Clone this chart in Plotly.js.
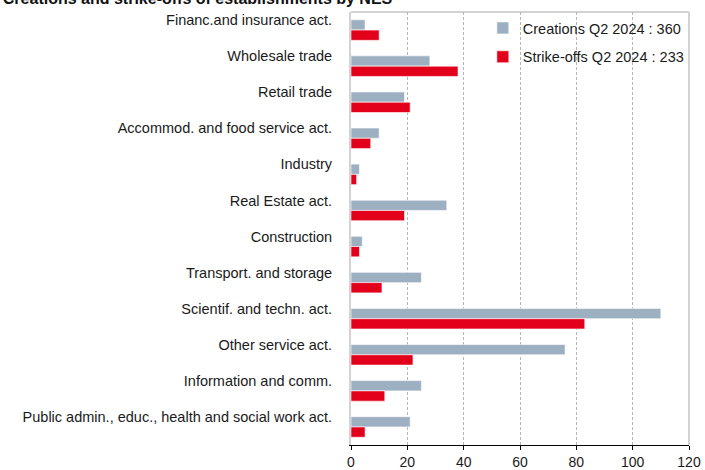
<!DOCTYPE html>
<html>
<head>
<meta charset="utf-8">
<script src="https://cdn.plot.ly/plotly-3.0.1.min.js"></script>
<style>html,body{margin:0;padding:0;background:#fff;}#chart{width:705px;height:470px;}</style>
</head>
<body>
<div id="chart"></div>
<script>
const categories = [
  "Financ.and insurance act.",
  "Wholesale trade",
  "Retail trade",
  "Accommod. and food service act.",
  "Industry",
  "Real Estate act.",
  "Construction",
  "Transport. and storage",
  "Scientif. and techn. act.",
  "Other service act.",
  "Information and comm.",
  "Public admin., educ., health and social work act."
];
const creations = [5, 28, 19, 10, 3, 34, 4, 25, 110, 76, 25, 21];
const strikeOffs = [10, 38, 21, 7, 2, 19, 3, 11, 83, 22, 12, 5];
const seriesNames = ["Creations Q2 2024 : 360", "Strike-offs Q2 2024 : 233"];
const xTicks = [0, 20, 40, 60, 80, 100, 120];

const FONT = "Liberation Sans, Arial, Helvetica, sans-serif";
const GREY = "#9cb0c2";
const RED = "#e2001a";

const traces = [
  {
    type: "bar", orientation: "h", name: seriesNames[0],
    y: categories, x: creations,
    marker: {color: GREY, line: {color: "rgba(255,255,255,0.6)", width: 1}},
    legendgroup: "a", hoverinfo: "x+y"
  },
  {
    type: "bar", orientation: "h", name: seriesNames[1],
    y: categories, x: strikeOffs,
    marker: {color: RED, line: {color: "rgba(255,255,255,0.6)", width: 1}},
    legendgroup: "b", hoverinfo: "x+y"
  }
];

const layout = {
  width: 705, height: 470,
  margin: {l: 351, r: 16, t: 12, b: 25, pad: 0},
  paper_bgcolor: "#fff", plot_bgcolor: "#fff",
  font: {family: FONT, size: 14.5, color: "#1a1a1a"},
  title: {
    text: "<b>Creations and strike-offs of establishments by NES</b>",
    font: {family: FONT, size: 16, color: "#111"},
    xref: "container", x: 0.004, xanchor: "left",
    yref: "paper", y: 1, yanchor: "bottom",
    pad: {b: 8}
  },
  barmode: "group", bargap: 0.43, bargroupgap: 0,
  showlegend: true,
  legend: {
    x: 0.39, y: 1.0, xanchor: "left", yanchor: "top",
    bgcolor: "rgba(255,255,255,0)", borderwidth: 0,
    font: {family: FONT, size: 14.5, color: "#1a1a1a"},
    traceorder: "grouped", tracegroupgap: 7
  },
  xaxis: {
    range: [0, 120], tickvals: xTicks, ticktext: xTicks.map(String),
    showgrid: true, gridcolor: "#b5b5b5", gridwidth: 1, griddash: "3px,2px",
    zeroline: false,
    showline: true, linecolor: "#000", linewidth: 1,
    ticks: "outside", ticklen: 4, tickcolor: "#000",
    tickfont: {family: FONT, size: 14, color: "#1a1a1a"},
    fixedrange: true
  },
  yaxis: {
    type: "category", autorange: "reversed",
    showgrid: false, zeroline: false,
    showline: true, linecolor: "#d3d3d3", linewidth: 2, mirror: false,
    ticks: "", ticklabelstandoff: 14, ticklabelshift: 10,
    tickfont: {family: FONT, size: 14.5, color: "#1a1a1a"},
    fixedrange: true
  },
  shapes: [
    {type: "line", xref: "paper", yref: "paper", x0: 0, x1: 1, y0: 1, y1: 1,
     line: {color: "#d3d3d3", width: 2}, layer: "below"},
    {type: "line", xref: "paper", yref: "paper", x0: 1, x1: 1, y0: 0, y1: 1,
     line: {color: "#d3d3d3", width: 2}, layer: "below"}
  ]
};

Plotly.newPlot("chart", traces, layout, {displayModeBar: false, staticPlot: true});
</script>
</body>
</html>
